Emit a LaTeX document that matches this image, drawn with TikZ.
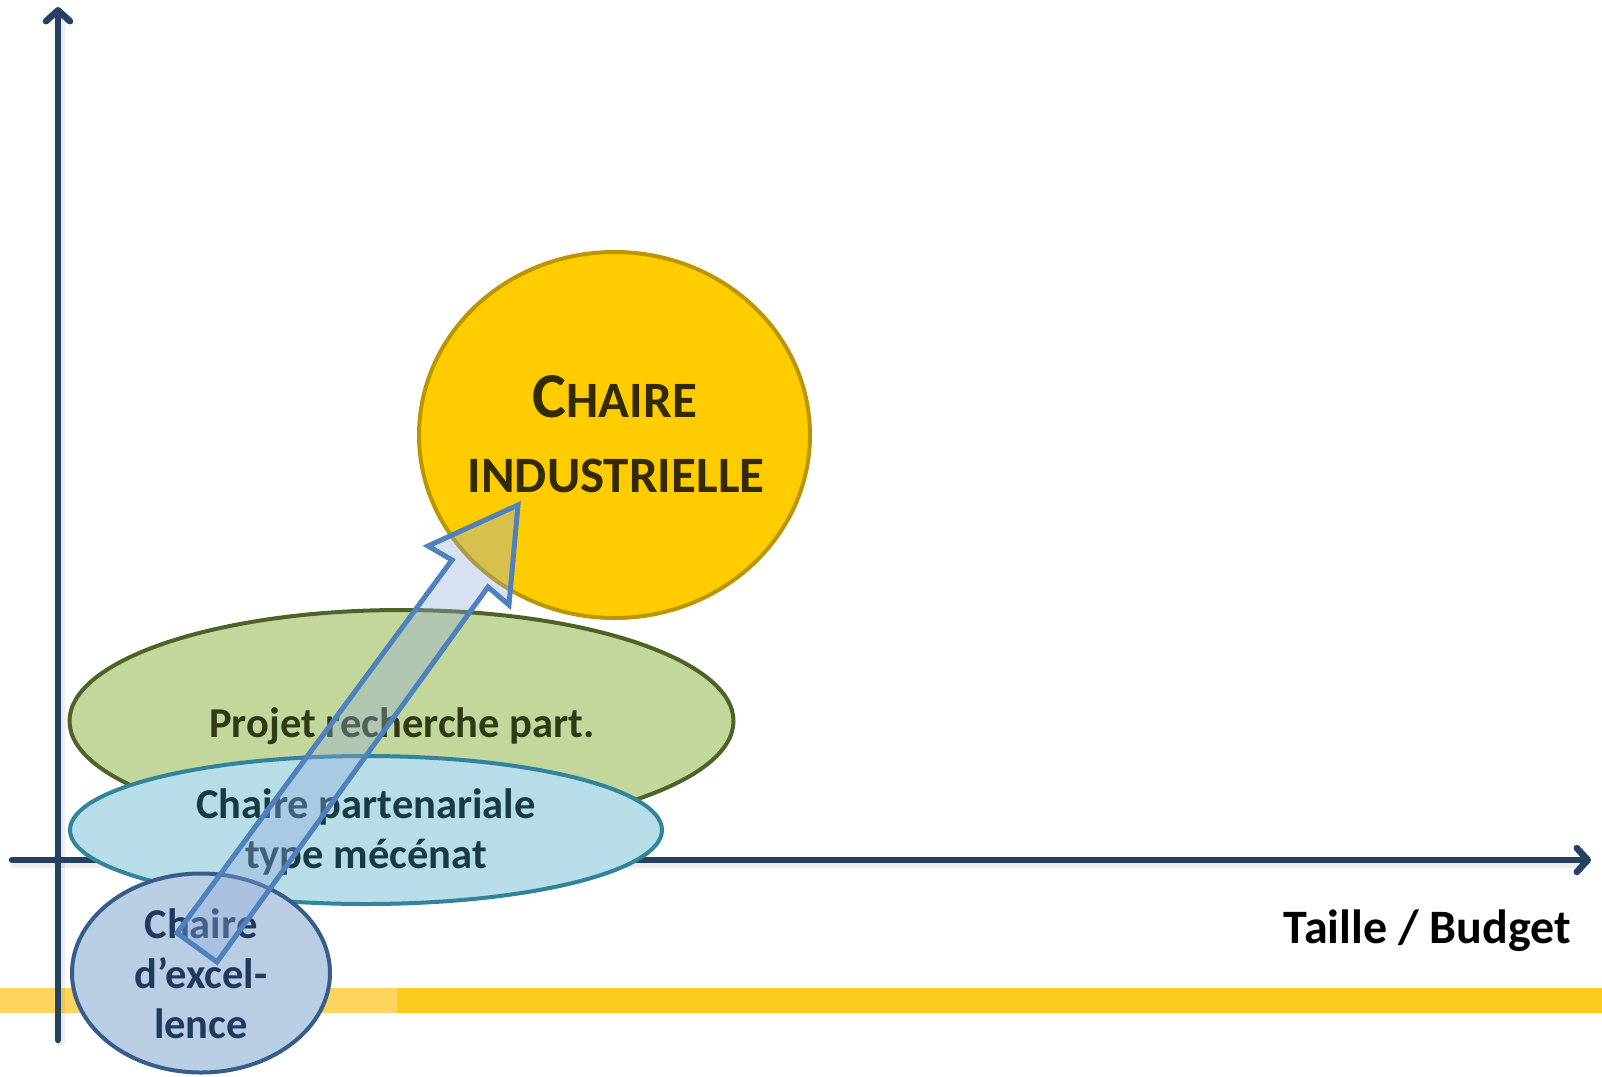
\documentclass[tikz,border=0pt]{standalone}
\usepackage{fontspec}
\setmainfont{Carlito}
\usetikzlibrary{arrows.meta,shapes.geometric}
\definecolor{axisc}{HTML}{254061}
\definecolor{bandlight}{HTML}{FDD55C}
\definecolor{banddark}{HTML}{FDCA1F}
\definecolor{indfill}{HTML}{FFCC00}
\definecolor{inddraw}{HTML}{BC9600}
\definecolor{indtext}{HTML}{332A00}
\definecolor{projfill}{HTML}{C3D69B}
\definecolor{projdraw}{HTML}{4F6228}
\definecolor{projtext}{HTML}{2F3B14}
\definecolor{partfill}{HTML}{B7DEE8}
\definecolor{partdraw}{HTML}{31849B}
\definecolor{parttext}{HTML}{173A45}
\definecolor{excfill}{HTML}{B9CDE5}
\definecolor{excdraw}{HTML}{385D8A}
\definecolor{exctext}{HTML}{22395E}
\definecolor{arrfill}{HTML}{8EAADB}
\definecolor{arrdraw}{HTML}{4F81BD}
\tikzset{
  axisline/.style={draw=axisc, line width=6.5pt, line cap=round,
    -{Straight Barb[length=11pt,width=24pt,round]}},
  axisshadow/.style={draw=black, opacity=0.07, line width=9pt, line cap=round},
  blob/.style={ellipse, inner sep=0pt, outer sep=0pt, line width=4pt},
  lbl/.style={anchor=base, inner sep=0pt, font=\bfseries\fontsize{42.5}{50}\selectfont},
  bigarrow/.style={draw=arrdraw, line width=5pt, line join=miter, fill=arrfill, fill opacity=0.35}
}
\begin{document}
\begin{tikzpicture}[x=1pt,y=-1pt]
\useasboundingbox (0,0) rectangle (1602,1076);
\fill[white] (0,0) rectangle (1602,1076);
% yellow band
\fill[bandlight] (0,988) rectangle (397,1013);
\fill[banddark] (397,988) rectangle (1602,1013);
% axes
\coordinate (xs) at (12,860);
\coordinate (xe) at (1591,860);
\coordinate (ys) at (58,1040);
\coordinate (ye) at (58,7);
\coordinate (xs2) at (14,863);
\coordinate (xe2) at (1585,863);
\coordinate (ys2) at (60,1042);
\coordinate (ye2) at (60,20);
\draw[axisshadow] (xs2) -- (xe2);
\draw[axisshadow] (ys2) -- (ye2);
\draw[axisline] (xs) -- (xe);
\draw[axisline] (ys) -- (ye);
% ellipses
\node[blob, fill=indfill, draw=inddraw, minimum width=391pt, minimum height=366pt] (ind) at (614.5,435) {};
\node[blob, fill=projfill, draw=projdraw, minimum width=664pt, minimum height=222pt] (proj) at (401.5,721) {};
\node[blob, fill=partfill, draw=partdraw, minimum width=592pt, minimum height=148pt] (part) at (366,830) {};
\node[blob, fill=excfill, draw=excdraw, minimum width=258pt, minimum height=199pt] (exc) at (201,973) {};
% texts
\node[anchor=base, inner sep=0pt, text=indtext, font=\bfseries] (indA) at (615,417)
  {{\fontsize{64}{75}\selectfont C}{\fontsize{51}{75}\selectfont HAIRE}};
\node[anchor=base, inner sep=0pt, text=indtext, font=\bfseries\fontsize{51}{75}\selectfont] (indB) at (616,492) {INDUSTRIELLE};
\node[lbl, text=projtext] (projA) at (402,737) {Projet recherche part.};
\node[lbl, text=parttext] (partA) at (366,818) {Chaire partenariale};
\node[lbl, text=parttext] (partB) at (366,868) {type mécénat};
\node[lbl, text=exctext] (excA) at (201,938) {Chaire};
\node[lbl, text=exctext] (excB) at (201,988) {d’excel-};
\node[lbl, text=exctext] (excC) at (201,1038) {lence};
\node[anchor=base east, inner sep=0pt, font=\bfseries\fontsize{48}{55}\selectfont] (budget) at (1571,943) {Taille / Budget};
% block arrow
\coordinate (t1) at (177,933);
\coordinate (j1) at (452,560);
\coordinate (b1) at (428,546);
\coordinate (tip) at (518,505);
\coordinate (b2) at (509,605);
\coordinate (j2) at (488,587);
\coordinate (t2) at (217,962);
\draw[bigarrow] (t1) -- (j1) -- (b1) -- (tip) -- (b2) -- (j2) -- (t2) -- cycle;
\end{tikzpicture}
\end{document}
